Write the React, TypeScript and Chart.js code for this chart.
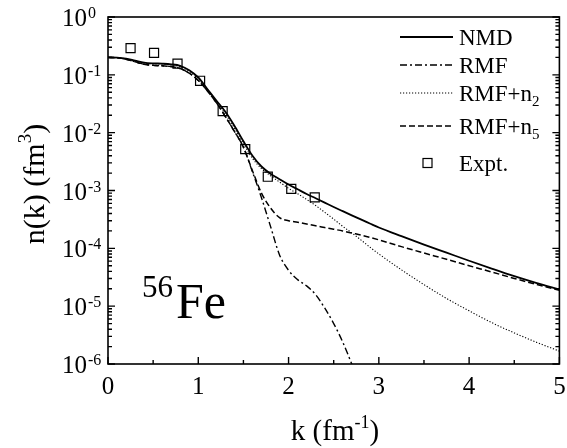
import React, { useEffect, useRef } from 'react';
import { Chart, registerables } from 'chart.js';

Chart.register(...registerables);

// ---------- data ----------
const kGrid = [0, 0.1, 0.2, 0.3, 0.4, 0.5, 0.6, 0.7, 0.8, 0.9, 1.0, 1.1, 1.2, 1.3, 1.4, 1.5, 1.6, 1.7, 1.8, 1.9, 2.0, 2.1, 2.2, 2.3, 2.4, 2.5, 2.6, 2.7, 2.8, 2.9, 3.0, 3.25, 3.5, 3.75, 4.0, 4.25, 4.5, 4.75, 5.0];

const nmd = [0.200, 0.198, 0.190, 0.176, 0.163, 0.158, 0.156, 0.152, 0.143, 0.120, 0.090, 0.057, 0.036, 0.023, 0.0132, 0.0071, 0.0040, 0.0026, 0.00195, 0.00157, 0.00127, 0.00105, 0.00087, 0.000733, 0.000617, 0.000519, 0.000439, 0.000372, 0.000316, 0.000269, 0.000229, 0.000162, 0.000116, 0.0000841, 0.0000610, 0.0000447, 0.0000331, 0.0000251, 0.0000195];

const rmfN2 = [0.200, 0.198, 0.189, 0.174, 0.160, 0.155, 0.153, 0.149, 0.138, 0.115, 0.086, 0.055, 0.034, 0.021, 0.0120, 0.0064, 0.0036, 0.0024, 0.0018, 0.0014, 0.00109, 0.00088, 0.00070, 0.00055, 0.00042, 0.00032, 0.00024, 0.000185, 0.000140, 0.000105, 0.000080, 0.0000425, 0.0000236, 0.0000136, 0.0000083, 0.0000052, 0.00000345, 0.00000236, 0.00000167];

const rmfN5 = [0.200, 0.197, 0.186, 0.168, 0.152, 0.146, 0.143, 0.139, 0.128, 0.107, 0.080, 0.053, 0.033, 0.019, 0.0105, 0.0056, 0.0022, 0.00090, 0.00050, 0.00034, 0.00030, 0.000282, 0.000263, 0.000245, 0.000229, 0.000214, 0.000200, 0.000184, 0.000170, 0.000155, 0.000140, 0.000107, 0.000083, 0.0000646, 0.0000500, 0.0000390, 0.0000302, 0.0000237, 0.0000188];

const rmfK = [0, 0.1, 0.2, 0.3, 0.4, 0.5, 0.6, 0.7, 0.8, 0.9, 1.0, 1.1, 1.2, 1.3, 1.4, 1.5, 1.6, 1.7, 1.8, 1.9, 2.0, 2.1, 2.2, 2.3, 2.4, 2.5, 2.6, 2.7, 2.8];
const rmf = [0.200, 0.197, 0.186, 0.168, 0.152, 0.146, 0.143, 0.139, 0.128, 0.107, 0.080, 0.053, 0.033, 0.019, 0.0105, 0.0056, 0.0021, 0.00075, 0.00024, 0.000077, 0.0000417, 0.0000288, 0.0000224, 0.0000158, 0.0000093, 0.0000050, 0.0000024, 0.0000010, 0.0000004];

const exptK = [0.25, 0.51, 0.77, 1.02, 1.27, 1.52, 1.77, 2.03, 2.29];
const expt = [0.29, 0.24, 0.156, 0.079, 0.0236, 0.0052, 0.00173, 0.00107, 0.00076];

const xTickValues = [0, 1, 2, 3, 4, 5];
const yExponents = [0, -1, -2, -3, -4, -5, -6];

const FONT = '"Liberation Serif", "Times New Roman", serif';

const pts = (xs: number[], ys: number[]) => xs.map((x, i) => ({ x, y: ys[i] }));

const DASH_SOLID: number[] = [];
const DASH_DASHDOT = [7, 3, 2, 3];
const DASH_DOT = [1.2, 1.8];
const DASH_DASH = [6, 3];

const legendItems = [
  { main: 'NMD', sub: '', dash: DASH_SOLID, width: 1.8, kind: 'line' },
  { main: 'RMF', sub: '', dash: DASH_DASHDOT, width: 1.4, kind: 'line' },
  { main: 'RMF+n', sub: '2', dash: DASH_DOT, width: 1.1, kind: 'line' },
  { main: 'RMF+n', sub: '5', dash: DASH_DASH, width: 1.5, kind: 'line' },
  { main: 'Expt.', sub: '', dash: DASH_SOLID, width: 1.2, kind: 'square' },
];

const decorPlugin = {
  id: 'decor',
  afterDraw(chart: any) {
    const ctx: CanvasRenderingContext2D = chart.ctx;
    const { left, right, top, bottom } = chart.chartArea;
    const xs = chart.scales.x;
    const ys = chart.scales.y;
    ctx.save();
    ctx.strokeStyle = '#000';
    ctx.fillStyle = '#000';
    ctx.setLineDash([]);
    ctx.lineWidth = 1.6;
    ctx.strokeRect(left, top, right - left, bottom - top);

    // x ticks (bottom, inward)
    ctx.lineWidth = 1.4;
    for (let v = 0; v <= 5.001; v += 0.5) {
      const px = xs.getPixelForValue(v);
      const major = Math.abs(v - Math.round(v)) < 1e-6;
      const len = major ? 7 : 4;
      ctx.beginPath();
      ctx.moveTo(px, bottom);
      ctx.lineTo(px, bottom - len);
      ctx.stroke();
    }
    // y ticks (left & right, inward)
    for (let e = -6; e <= 0; e++) {
      for (let m = 1; m <= 9; m++) {
        if (e === 0 && m > 1) continue;
        const v = m * Math.pow(10, e);
        const py = ys.getPixelForValue(v);
        const len = m === 1 ? 7 : 4;
        ctx.beginPath();
        ctx.moveTo(left, py);
        ctx.lineTo(left + len, py);
        ctx.moveTo(right, py);
        ctx.lineTo(right - len, py);
        ctx.stroke();
      }
    }

    // x tick labels
    ctx.font = `25px ${FONT}`;
    ctx.textAlign = 'center';
    ctx.textBaseline = 'alphabetic';
    xTickValues.forEach((v) => {
      ctx.fillText(String(v), xs.getPixelForValue(v), bottom + 30);
    });

    // y tick labels 10^e
    yExponents.forEach((e) => {
      const py = ys.getPixelForValue(Math.pow(10, e));
      ctx.font = `25px ${FONT}`;
      ctx.textAlign = 'right';
      ctx.textBaseline = 'alphabetic';
      ctx.fillText('10', left - 21, py + 9);
      ctx.font = `16px ${FONT}`;
      ctx.textAlign = 'left';
      ctx.fillText(e === 0 ? '0' : '-' + String(-e), left - 20, py + 1);
    });

    // x axis title
    {
      const base = 'k (fm';
      const sup = '-1';
      const tail = ')';
      ctx.textAlign = 'left';
      ctx.font = `29px ${FONT}`;
      const w1 = ctx.measureText(base).width;
      const w3 = ctx.measureText(tail).width;
      ctx.font = `18px ${FONT}`;
      const w2 = ctx.measureText(sup).width;
      const total = w1 + w2 + w3;
      const cx = 335;
      const by = 440;
      const x0 = cx - total / 2;
      ctx.font = `29px ${FONT}`;
      ctx.fillText(base, x0, by);
      ctx.font = `18px ${FONT}`;
      ctx.fillText(sup, x0 + w1, by - 12);
      ctx.font = `29px ${FONT}`;
      ctx.fillText(tail, x0 + w1 + w2, by);
    }

    // y axis title (rotated)
    {
      ctx.save();
      ctx.translate(44, 184);
      ctx.rotate(-Math.PI / 2);
      const base = 'n(k) (fm';
      const sup = '3';
      const tail = ')';
      ctx.textAlign = 'left';
      ctx.font = `30px ${FONT}`;
      const w1 = ctx.measureText(base).width;
      const w3 = ctx.measureText(tail).width;
      ctx.font = `19px ${FONT}`;
      const w2 = ctx.measureText(sup).width;
      const total = w1 + w2 + w3;
      const x0 = -total / 2;
      ctx.font = `30px ${FONT}`;
      ctx.fillText(base, x0, 0);
      ctx.font = `19px ${FONT}`;
      ctx.fillText(sup, x0 + w1, -13);
      ctx.font = `30px ${FONT}`;
      ctx.fillText(tail, x0 + w1 + w2, 0);
      ctx.restore();
    }

    // 56Fe annotation
    ctx.textAlign = 'left';
    ctx.font = `31px ${FONT}`;
    ctx.fillText('56', 142, 297);
    ctx.font = `50px ${FONT}`;
    ctx.fillText('Fe', 176, 318);

    // legend
    const rowsY = [37, 65, 93, 126, 163];
    const lx1 = 400;
    const lx2 = 453;
    const tx = 459;
    legendItems.forEach((it, i) => {
      const y = rowsY[i];
      if (it.kind === 'line') {
        ctx.save();
        ctx.lineWidth = it.width;
        ctx.setLineDash(it.dash);
        ctx.beginPath();
        ctx.moveTo(lx1, y);
        ctx.lineTo(lx2, y);
        ctx.stroke();
        ctx.restore();
      } else {
        ctx.save();
        ctx.lineWidth = it.width;
        ctx.setLineDash([]);
        ctx.strokeRect(423, y - 4.5, 9, 9);
        ctx.restore();
      }
      ctx.font = `23px ${FONT}`;
      ctx.textAlign = 'left';
      ctx.textBaseline = 'alphabetic';
      ctx.fillText(it.main, tx, y + 8);
      if (it.sub) {
        const w = ctx.measureText(it.main).width;
        ctx.font = `15px ${FONT}`;
        ctx.fillText(it.sub, tx + w, y + 13);
      }
    });

    ctx.restore();
  },
};

export default function App() {
  const canvasRef = useRef<HTMLCanvasElement | null>(null);

  useEffect(() => {
    document.body.style.margin = '0';
    const canvas = canvasRef.current;
    if (!canvas) return;
    const lineBase = {
      borderColor: '#000',
      pointRadius: 0,
      cubicInterpolationMode: 'monotone',
      fill: false,
    };
    const chart = new Chart(canvas, {
      type: 'line',
      data: {
        datasets: [
          { ...lineBase, label: 'NMD', data: pts(kGrid, nmd), borderWidth: 1.8 },
          { ...lineBase, label: 'RMF', data: pts(rmfK, rmf), borderWidth: 1.4, borderDash: DASH_DASHDOT },
          { ...lineBase, label: 'RMF+n2', data: pts(kGrid, rmfN2), borderWidth: 1.1, borderDash: DASH_DOT },
          { ...lineBase, label: 'RMF+n5', data: pts(kGrid, rmfN5), borderWidth: 1.5, borderDash: DASH_DASH },
          {
            label: 'Expt.',
            data: pts(exptK, expt),
            showLine: false,
            borderColor: '#000',
            backgroundColor: 'rgba(0,0,0,0)',
            pointStyle: 'rect',
            pointRadius: 6.4,
            pointBorderWidth: 1.2,
            pointBorderColor: '#000',
            pointBackgroundColor: 'rgba(0,0,0,0)',
          },
        ],
      } as any,
      options: {
        responsive: false,
        animation: false,
        events: [],
        layout: { padding: { left: 108, right: 6, top: 17, bottom: 84 } },
        plugins: { legend: { display: false }, tooltip: { enabled: false } },
        scales: {
          x: { type: 'linear', min: 0, max: 5, display: false },
          y: { type: 'logarithmic', min: 1e-6, max: 1, display: false },
        },
      } as any,
      plugins: [decorPlugin],
    });
    return () => chart.destroy();
  }, []);

  return (
    <div style={{ position: 'absolute', left: 0, top: 0, width: 567, height: 448, background: '#fff' }}>
      <canvas ref={canvasRef} width={567} height={448} style={{ width: 567, height: 448, display: 'block' }} />
    </div>
  );
}
